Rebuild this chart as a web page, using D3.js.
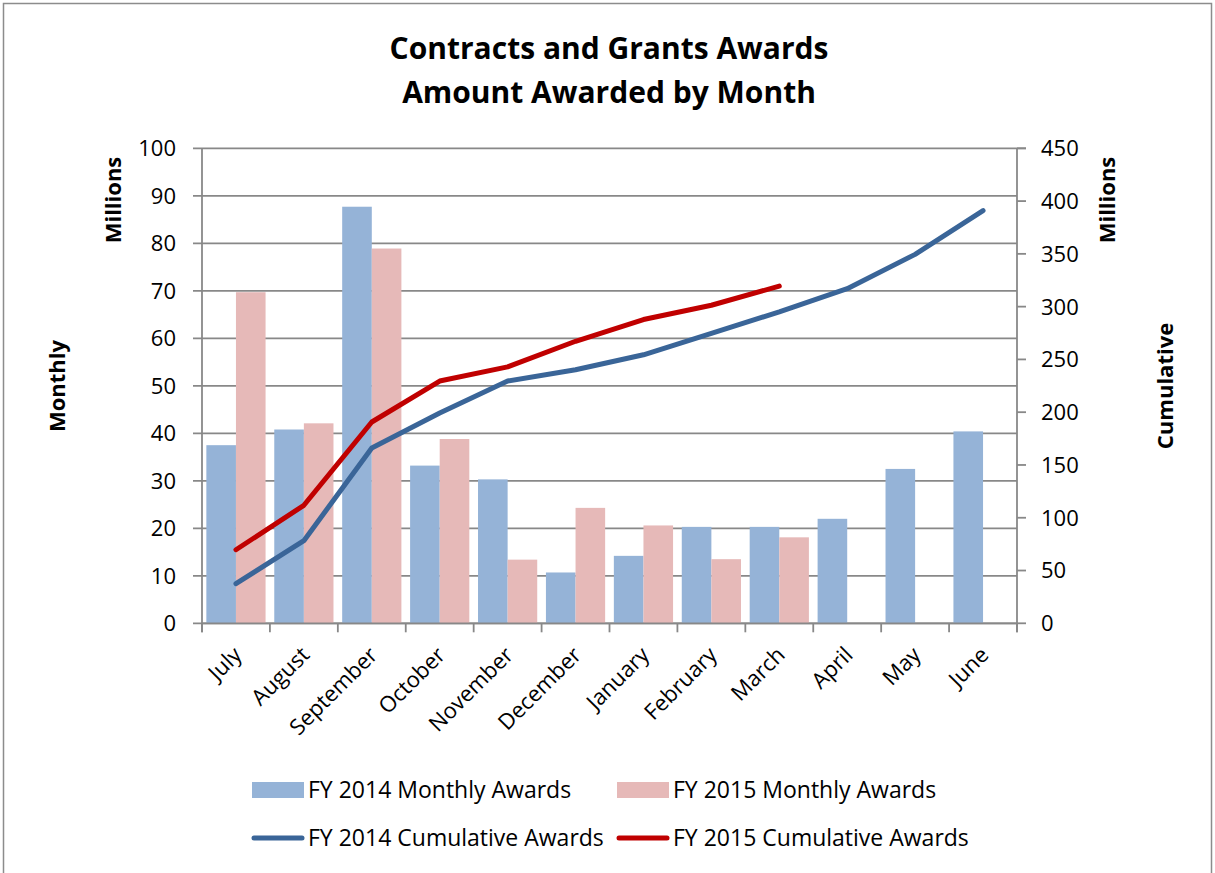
<!DOCTYPE html>
<html><head><meta charset="utf-8">
<script src="https://cdn.jsdelivr.net/npm/d3@7"></script>
<style>body{margin:0;background:#fff}svg{display:block}text{font-family:"Open Sans",Lato,sans-serif}</style>
</head><body><svg id="c" width="1215" height="873"></svg>
<script>
const months = ["July","August","September","October","November","December","January","February","March","April","May","June"];
const fy14Monthly = [37.5,40.8,87.7,33.2,30.3,10.7,14.2,20.3,20.3,22.0,32.5,40.4];
const fy15Monthly = [69.7,42.1,78.9,38.8,13.4,24.3,20.6,13.5,18.1,null,null,null];
const fy14Cumulative = [37.5,78.3,166,199.2,229.5,240.2,254.4,274.7,295,317,349.5,391];
const fy15Cumulative = [69.7,111.8,190.7,229.5,242.9,267.2,287.8,301.3,319.4];
const leftTicks = [0,10,20,30,40,50,60,70,80,90,100];
const rightTicks = [0,50,100,150,200,250,300,350,400,450];
const seriesNames = ["FY 2014 Monthly Awards","FY 2015 Monthly Awards","FY 2014 Cumulative Awards","FY 2015 Cumulative Awards"];

const C = {b14:"#95B3D7", b15:"#E6B9B8", l14:"#3A6598", l15:"#C00000", grid:"#888888"};
const svg = d3.select("#c");
const L = 202, R = 1017, T = 148.3, B = 623.3;

svg.append("rect").attr("x",3.5).attr("y",3.5).attr("width",1208).attr("height",880).attr("fill","none").attr("stroke","#8c8c8c").attr("stroke-width",1.5);

const x = d3.scaleBand().domain(months).range([L,R]).padding(0);
const xs = d3.scaleBand().domain([0,1]).range([0,x.bandwidth()]).paddingInner(0).paddingOuter(0.147);
const yL = d3.scaleLinear().domain([0,100]).range([B,T]);
const yR = d3.scaleLinear().domain([0,450]).range([B,T]);
const GW = 1.8;

// gridlines
svg.append("g").selectAll("line").data(leftTicks).join("line")
  .attr("x1",L-9).attr("x2",d=>d===100?R+9:R).attr("y1",d=>yL(d)).attr("y2",d=>yL(d))
  .attr("stroke",C.grid).attr("stroke-width",GW);

// bars
const bars = svg.append("g");
months.forEach((m,i)=>{
  [[fy14Monthly[i],C.b14,0],[fy15Monthly[i],C.b15,1]].forEach(([v,col,k])=>{
    if(v==null) return;
    bars.append("rect").attr("x",x(m)+xs(k)).attr("width",xs.bandwidth())
      .attr("y",yL(v)).attr("height",yL(0)-yL(v)).attr("fill",col);
  });
});

// axes lines
svg.append("line").attr("x1",L).attr("x2",L).attr("y1",T).attr("y2",B+9).attr("stroke",C.grid).attr("stroke-width",GW);
svg.append("line").attr("x1",R).attr("x2",R).attr("y1",T).attr("y2",B+9).attr("stroke",C.grid).attr("stroke-width",GW);
svg.append("line").attr("x1",L).attr("x2",R).attr("y1",B).attr("y2",B).attr("stroke",C.grid).attr("stroke-width",GW);
// x ticks
svg.append("g").selectAll("line").data(d3.range(13)).join("line")
  .attr("x1",i=>L+i*x.step()).attr("x2",i=>L+i*x.step()).attr("y1",B).attr("y2",B+9)
  .attr("stroke",C.grid).attr("stroke-width",GW);
// right ticks
svg.append("g").selectAll("line").data(rightTicks).join("line")
  .attr("x1",R).attr("x2",R+9).attr("y1",d=>yR(d)).attr("y2",d=>yR(d))
  .attr("stroke",C.grid).attr("stroke-width",GW);

// tick labels
svg.append("g").selectAll("text").data(leftTicks).join("text")
  .attr("x",176).attr("y",d=>yL(d)).attr("dy","0.36em").attr("text-anchor","end")
  .attr("font-size",22).attr("fill","#000").text(d=>d);
svg.append("g").selectAll("text").data(rightTicks).join("text")
  .attr("x",1041).attr("y",d=>yR(d)).attr("dy","0.36em").attr("text-anchor","start")
  .attr("font-size",22).attr("fill","#000").text(d=>d);
svg.append("g").selectAll("text").data(months).join("text")
  .attr("transform",d=>`translate(${x(d)+x.bandwidth()/2+7},${B+33}) rotate(-45)`)
  .attr("text-anchor","end").attr("font-size",22).attr("fill","#000").text(d=>d);

// lines
const lineGen = d3.line().x((d,i)=>x(months[i])+x.bandwidth()/2).y(d=>yR(d));
svg.append("path").datum(fy14Cumulative).attr("d",lineGen).attr("fill","none").attr("stroke",C.l14).attr("stroke-width",5).attr("stroke-linecap","round").attr("stroke-linejoin","round");
svg.append("path").datum(fy15Cumulative).attr("d",lineGen).attr("fill","none").attr("stroke",C.l15).attr("stroke-width",5).attr("stroke-linecap","round").attr("stroke-linejoin","round");

// titles
const title = svg.append("text").attr("text-anchor","middle").attr("font-weight","bold").attr("font-size",30).attr("fill","#000");
title.append("tspan").attr("x",609).attr("y",59).text("Contracts and Grants Awards");
title.append("tspan").attr("x",609).attr("y",103).text("Amount Awarded by Month");

function vlabel(tx,ty,t){svg.append("text").attr("transform",`translate(${tx},${ty}) rotate(-90)`).attr("text-anchor","middle").attr("font-weight","bold").attr("font-size",22).attr("fill","#000").text(t);}
vlabel(121,200,"Millions");
vlabel(1115,200,"Millions");
vlabel(65,386,"Monthly");
vlabel(1173,386,"Cumulative");

// legend
const lg = svg.append("g");
const items = [
  {t:seriesNames[0],x:252,y:790,type:"rect",c:C.b14},
  {t:seriesNames[1],x:617,y:790,type:"rect",c:C.b15},
  {t:seriesNames[2],x:252,y:838,type:"line",c:C.l14},
  {t:seriesNames[3],x:617,y:838,type:"line",c:C.l15}];
items.forEach(it=>{
  if(it.type==="rect") lg.append("rect").attr("x",it.x).attr("y",it.y-8).attr("width",52).attr("height",16).attr("fill",it.c);
  else lg.append("line").attr("x1",it.x+2).attr("x2",it.x+50).attr("y1",it.y).attr("y2",it.y).attr("stroke",it.c).attr("stroke-width",5).attr("stroke-linecap","round");
  lg.append("text").attr("x",it.x+56).attr("y",it.y+8).attr("font-size",23).attr("fill","#000").text(it.t);
});
</script></body></html>
